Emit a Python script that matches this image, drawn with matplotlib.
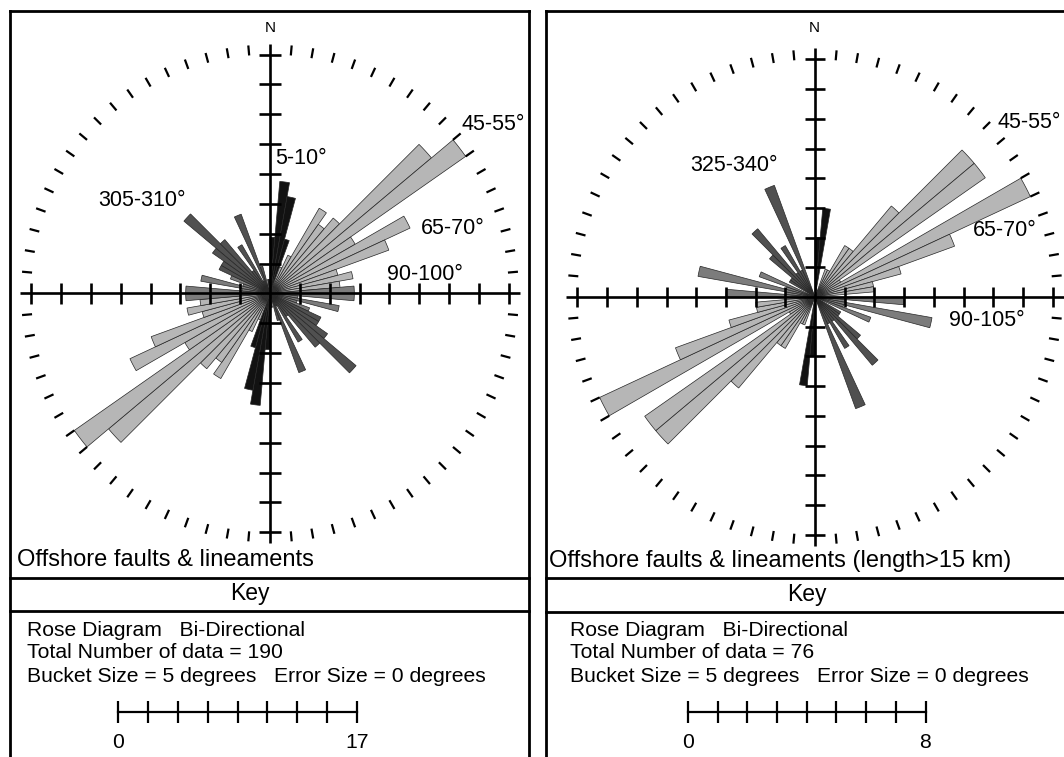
import numpy as np
import matplotlib
matplotlib.use('Agg')
import matplotlib.pyplot as plt
from matplotlib.patches import Wedge
from matplotlib.collections import LineCollection

# ---------------- data ----------------
bucket_size = 5
bin_starts = list(range(0, 180, 5))  # bi-directional: each bin also drawn at +180

left_counts = [4, 8, 7, 4, 2, 3, 7, 6, 7, 15, 17, 7, 11, 9, 5, 6, 5, 6,
               6, 2, 5, 2, 3, 4, 4, 5, 8, 5, 2, 4, 1, 6, 2, 0, 1, 1]
left_classes = ["K", "K", "K", "K", "L", "L", "L", "L", "L", "L", "L", "L", "L", "L", "L", "L", "L", "M",
                "M", "M", "M", "M", "M", "D", "D", "D", "D", "D", "D", "D", "D", "D", "D", "D", "K", "K"]

right_counts = [2, 3, 0, 0, 1, 1, 2, 2, 4, 7, 7, 1, 8, 5, 3, 2, 2, 0,
                3, 1, 4, 1, 2, 0, 1, 1, 2, 3, 1, 2, 1, 4, 0, 0, 0, 0]
right_classes = ["K", "K", "K", "K", "L", "L", "L", "L", "L", "L", "L", "L", "L", "L", "L", "L", "L", "M",
                 "M", "M", "M", "M", "M", "D", "D", "D", "D", "D", "D", "D", "D", "D", "D", "D", "D", "D"]

left_max = 17
right_max = 8
left_total = 190
right_total = 76

left_title = "Offshore faults & lineaments"
right_title = "Offshore faults & lineaments (length>15 km)"
left_labels = ["45-55°", "5-10°", "305-310°", "65-70°", "90-100°"]
right_labels = ["45-55°", "325-340°", "65-70°", "90-105°"]

class_colors = {"K": "#121212", "D": "#505050", "M": "#7c7c7c", "L": "#b6b6b6"}

# ---------------- figure ----------------
W, H = 1064, 757
FONT = ["Liberation Sans", "DejaVu Sans"]
fig = plt.figure(figsize=(W / 100, H / 100), dpi=100)
bg = fig.add_axes([0, 0, 1, 1])
bg.set_xlim(0, W)
bg.set_ylim(H, 0)
bg.axis("off")


def rose(cx, cy, pxper, R, counts, classes):
    ext = 1.12 * R
    hs = ext * pxper
    ax = fig.add_axes([(cx - hs) / W, 1 - (cy + hs) / H, 2 * hs / W, 2 * hs / H])
    ax.set_xlim(-ext, ext)
    ax.set_ylim(-ext, ext)
    ax.axis("off")
    ax.patch.set_alpha(0)
    for start, c, cl in zip(bin_starts, counts, classes):
        if c <= 0:
            continue
        for a in (start, start + 180):
            ax.add_patch(Wedge((0, 0), c, 90 - (a + bucket_size), 90 - a,
                               facecolor=class_colors[cl], edgecolor="#262626",
                               linewidth=0.5, zorder=2))
    # axes cross
    L = 1.046 * R
    ax.plot([-L, L], [0, 0], color="black", lw=1.9, zorder=4, solid_capstyle="butt")
    ax.plot([0, 0], [-L, L], color="black", lw=1.9, zorder=4, solid_capstyle="butt")
    t = 0.044 * R
    segs = []
    for k in range(1, 9):
        r = k * R / 8
        for s in (-1, 1):
            segs.append([(s * r, -t), (s * r, t)])
            segs.append([(-t, s * r), (t, s * r)])
    ax.add_collection(LineCollection(segs, colors="black", linewidths=1.9, zorder=4))
    # outer ring of dashes every 5 degrees
    ring = []
    for a in range(5, 360, 5):
        if a % 90 == 0:
            continue
        th = np.deg2rad(a)
        ring.append([(R * np.sin(th), R * np.cos(th)),
                     (1.042 * R * np.sin(th), 1.042 * R * np.cos(th))])
    ax.add_collection(LineCollection(ring, colors="black", linewidths=1.6, zorder=4))
    return ax


def scalebar(xc, pxper, R, label_max):
    length = R * pxper
    x0 = xc - length / 2
    y0, y1 = 690, 757
    ax = fig.add_axes([x0 / W - 0.02, 1 - y1 / H, (length / W) + 0.04, (y1 - y0) / H])
    pad = 0.02 * W / pxper
    ax.set_xlim(-pad, R + pad)
    ax.set_ylim(y1, y0)
    ax.axis("off")
    ax.patch.set_alpha(0)
    ax.plot([0, R], [712, 712], color="black", lw=1.6)
    ticks = np.linspace(0, R, 9)
    ax.add_collection(LineCollection([[(x, 701), (x, 723)] for x in ticks],
                                     colors="black", linewidths=1.6))
    ax.text(0, 743, "0", ha="center", va="center", fontsize=15.2, family=FONT)
    ax.text(R, 743, str(label_max), ha="center", va="center", fontsize=15.2, family=FONT)


# left rose
rose(270, 293.4, 14.05, left_max, left_counts, left_classes)
# right rose
rose(815, 297, 29.7, right_max, right_counts, right_classes)

scalebar(237.5, 14.05, left_max, left_max)
scalebar(806.7, 29.7, right_max, right_max)

# frames
lw = 2.0
bg.plot([10, 10], [11, H + 5], color="black", lw=lw)
bg.plot([529, 529], [11, H + 5], color="black", lw=lw)
bg.plot([10, 529], [11, 11], color="black", lw=lw)
bg.plot([10, 529], [577.5, 577.5], color="black", lw=lw)
bg.plot([10, 529], [611, 611], color="black", lw=lw)
bg.plot([545.5, 545.5], [10.5, H + 5], color="black", lw=lw)
bg.plot([545.5, W + 10], [10.5, 10.5], color="black", lw=lw)
bg.plot([545.5, W + 10], [578, 578], color="black", lw=lw)
bg.plot([545.5, W + 10], [611.5, 611.5], color="black", lw=lw)

# texts
bg.text(270, 27.7, "N", ha="center", va="center", fontsize=11, family=FONT)
bg.text(814, 27.7, "N", ha="center", va="center", fontsize=11, family=FONT)

lpos = [(461.5, 124), (275.5, 159), (98, 200), (421, 229), (387, 274.5)]
for (x, y), s in zip(lpos, left_labels):
    bg.text(x, y, s, ha="left", va="center", fontsize=15.5, family=FONT)
rpos = [(998, 123), (690, 165.5), (972.8, 230), (949, 321)]
for (x, y), s in zip(rpos, right_labels):
    bg.text(x, y, s, ha="left", va="center", fontsize=15.5, family=FONT)

bg.text(17, 560.5, left_title, ha="left", va="center", fontsize=17, family=FONT)
bg.text(548.7, 560.5, right_title, ha="left", va="center", fontsize=17, family=FONT)

bg.text(250, 593.5, "Key", ha="center", va="center", fontsize=16.5, family=FONT)
bg.text(806.6, 594, "Key", ha="center", va="center", fontsize=16.5, family=FONT)

for x0, total in ((27, left_total), (570, right_total)):
    bg.text(x0, 630, "Rose Diagram   Bi-Directional", ha="left", va="center", fontsize=15.2, family=FONT)
    bg.text(x0, 653, f"Total Number of data = {total}", ha="left", va="center", fontsize=15.2, family=FONT)
    bg.text(x0, 677, f"Bucket Size = {bucket_size} degrees   Error Size = 0 degrees",
            ha="left", va="center", fontsize=15.2, family=FONT)

fig.savefig("out.png", dpi=100)
